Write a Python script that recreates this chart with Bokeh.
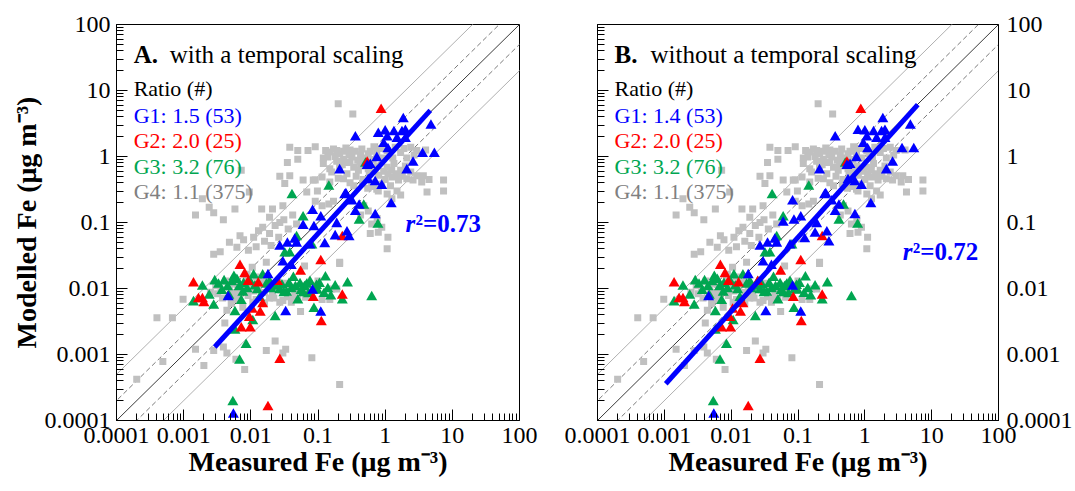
from bokeh.plotting import figure
from bokeh.layouts import row
from bokeh.models import Range1d, FixedTicker, LogAxis, Label
from bokeh.embed import file_html
from bokeh.resources import INLINE

# ---------------- data ----------------
tick_vals = [0.0001, 0.001, 0.01, 0.1, 1.0, 10.0, 100.0]
tick_labels = ["0.0001", "0.001", "0.01", "0.1", "1", "10", "100"]

groups = ["G1", "G2", "G3", "G4"]
ratios_a = [1.5, 2.0, 3.2, 1.1]
ratios_b = [1.4, 2.0, 3.2, 1.1]
counts = [53, 25, 76, 375]
r2_a = 0.73
r2_b = 0.72
ref_factors = [1.0, 2.0, 0.5, 5.0, 0.2]

# G4 (grey squares)
g4_meas = [0.038, 0.050, 0.071, 0.035, 0.050, 0.0072, 0.027, 0.038, 0.0095, 0.060,
           0.085, 0.032, 0.0019, 0.0015, 0.0024, 0.0028, 0.0039, 0.0058, 0.0145, 0.021,
           0.030, 0.019, 0.027, 0.015, 0.0069, 0.012, 0.020, 0.0028, 0.068, 0.20,
           0.33, 0.091, 0.13, 0.15, 0.19, 0.24, 0.30, 0.14, 0.18, 0.24,
           0.32, 0.43, 0.56, 0.68, 0.85, 1.07, 1.41, 1.9, 2.4, 2.95,
           4.0, 0.12, 0.15, 0.21, 0.27, 0.34, 0.43, 0.56, 0.76, 1.07,
           1.35, 1.7, 2.4, 2.95, 3.7, 1.26, 1.58, 2.1, 2.6, 3.5,
           4.5, 7.4, 0.091, 0.115, 0.15, 0.24, 0.34, 0.46, 0.63, 0.79,
           1.07, 1.5, 4.2, 7.4, 1.7, 1.26, 0.098, 0.091, 0.115, 0.145,
           0.17, 0.48, 0.56, 0.43, 0.76, 0.63, 0.89, 0.60, 0.79, 1.1,
           1.07, 0.21, 0.00098, 0.0004, 0.00068, 0.0015, 0.00049, 0.002, 0.0002, 0.0028,
           0.0039, 0.0044, 0.006, 0.0081, 0.023, 0.017, 0.030, 0.033, 0.081, 0.0041,
           0.055, 0.0105, 0.017, 0.063, 0.012, 0.0062, 0.0032, 0.0091, 0.019, 0.0107,
           0.0076, 0.0044, 0.0055, 0.0051, 0.016, 0.043, 0.030, 0.040, 0.21, 0.10,
           0.16, 0.19, 0.115, 0.15, 0.21,
           0.17, 0.21, 0.26, 0.29, 0.36, 0.39, 0.45, 0.52, 0.6, 0.66,
           0.75, 0.9, 1.15, 1.3, 1.7, 2.1, 2.7, 0.19, 0.23, 0.3,
           0.4, 0.5, 0.58, 0.7, 0.8, 0.95, 1.1, 1.25, 1.45, 1.8,
           2.0, 0.27, 0.37, 0.47, 0.68, 0.88, 1.0, 1.2, 0.3, 0.55,
           0.75, 0.12, 0.16, 0.2, 0.42,
           0.003, 0.0036, 0.0042, 0.0048, 0.0055, 0.0065, 0.0075, 0.0085, 0.0095, 0.011,
           0.013, 0.015, 0.018, 0.021, 0.024, 0.028, 0.033, 0.038, 0.045, 0.052,
           0.06, 0.07, 0.08, 0.0038, 0.0058, 0.0068, 0.012, 0.016, 0.022, 0.027,
           0.035, 0.05, 0.065, 0.0025, 0.0088,
           0.0035, 0.0048, 0.0062, 0.0078, 0.0092, 0.011, 0.013, 0.016, 0.019, 0.023,
           0.026, 0.031, 0.036, 0.042, 0.048]
g4_mod = [1.38, 1.23, 1.23, 0.81, 0.91, 0.62, 0.50, 0.51, 0.29, 0.44,
          0.44, 0.39, 0.23, 0.13, 0.17, 0.14, 0.11, 0.16, 0.16, 0.16,
          0.18, 0.12, 0.10, 0.085, 0.063, 0.043, 0.045, 0.033, 0.29, 6.3,
          4.4, 1.41, 1.23, 1.17, 1.23, 1.2, 1.26, 0.98, 1.0, 0.91,
          0.98, 1.05, 1.1, 1.41, 1.32, 1.23, 1.38, 1.32, 1.38, 1.23,
          1.26, 0.78, 0.65, 0.72, 0.81, 0.69, 0.78, 0.65, 0.72, 0.69,
          0.78, 0.62, 0.58, 0.51, 0.51, 0.49, 0.44, 0.46, 0.44, 0.41,
          0.45, 0.44, 0.44, 0.49, 0.41, 0.46, 0.36, 0.39, 0.35, 0.30,
          0.27, 0.30, 0.29, 0.30, 0.26, 0.23, 0.30, 0.21, 0.18, 0.19,
          0.21, 0.18, 0.15, 0.13, 0.115, 0.095, 0.085, 0.068, 0.071, 0.060,
          0.040, 0.025, 0.0069, 0.0036, 0.0036, 0.0012, 0.00078, 0.00068, 0.00042, 0.00115,
          0.0013, 0.00105, 0.00085, 0.00059, 0.0016, 0.00115, 0.00105, 0.0012, 0.00089, 0.003,
          0.0045, 0.021, 0.025, 0.022, 0.015, 0.0115, 0.0083, 0.0078, 0.0072, 0.0062,
          0.0052, 0.0047, 0.0087, 0.0059, 0.0087, 0.0074, 0.0066, 0.0062, 0.024, 0.013,
          0.0098, 0.0098, 0.0068, 0.0068, 0.00035,
          1.3, 1.1, 1.35, 1.05, 1.2, 0.88, 1.3, 0.95, 1.2, 0.9,
          1.15, 0.95, 1.1, 0.95, 1.15, 0.95, 1.05, 0.85, 0.75, 0.82,
          0.62, 0.72, 0.55, 0.6, 0.52, 0.6, 0.55, 0.62, 0.55, 0.5,
          0.72, 0.55, 0.5, 0.45, 0.4, 0.38, 0.45, 0.36, 0.4, 0.33,
          0.32, 0.95, 0.58, 0.47, 0.86,
          0.011, 0.0095, 0.013, 0.0105, 0.012, 0.0095, 0.011, 0.0135, 0.0105, 0.0092,
          0.011, 0.0125, 0.0105, 0.0088, 0.011, 0.0095, 0.012, 0.0105, 0.0092, 0.011,
          0.0098, 0.0085, 0.011, 0.0072, 0.0068, 0.0078, 0.0068, 0.0061, 0.0072, 0.0062,
          0.0075, 0.0068, 0.0074, 0.0088, 0.0165,
          0.036, 0.05, 0.042, 0.055, 0.038, 0.06, 0.075, 0.052, 0.068, 0.09,
          0.06, 0.11, 0.08, 0.13, 0.095]

# G3 (green triangles)
g3_meas = [0.041, 0.048, 0.038, 0.51, 0.145, 0.48, 0.41, 0.78, 0.081,
           0.0019, 0.0014, 0.0029, 0.004, 0.0056, 0.0045, 0.0076, 0.0024, 0.0028, 0.0058,
           0.0107, 0.0058, 0.0085, 0.0068, 0.0054, 0.011, 0.015, 0.019, 0.023, 0.027,
           0.034, 0.043, 0.054, 0.063, 0.076, 0.089, 0.05, 0.06, 0.023, 0.087,
           0.129, 0.275, 0.098, 0.123, 0.155, 0.23, 0.63,
           0.0033, 0.0037, 0.0052, 0.0062, 0.0067, 0.0078, 0.0088, 0.0098, 0.0115, 0.0125,
           0.017, 0.02, 0.025, 0.029, 0.031, 0.037, 0.04, 0.046, 0.056, 0.068,
           0.072, 0.095, 0.105, 0.14, 0.18, 0.0047, 0.0072, 0.0135, 0.032, 0.06]
g3_mod = [0.26, 0.06, 0.034, 0.78, 0.35, 0.18, 0.107, 0.093, 0.045,
          0.0107, 0.0062, 0.0129, 0.0129, 0.015, 0.0105, 0.0087, 0.0078, 0.0055, 0.0044,
          0.0032, 0.0023, 0.0014, 0.00081, 0.00019, 0.0158, 0.0158, 0.0126, 0.0107, 0.0095,
          0.0087, 0.0145, 0.0117, 0.0105, 0.0126, 0.0095, 0.0066, 0.0085, 0.0037, 0.0049,
          0.0148, 0.012, 0.0093, 0.0083, 0.0076, 0.0066, 0.0074,
          0.0115, 0.0092, 0.0125, 0.0135, 0.0105, 0.0118, 0.0098, 0.0125, 0.0108, 0.0095,
          0.0115, 0.0098, 0.0125, 0.0112, 0.0085, 0.0118, 0.0098, 0.0105, 0.0092, 0.0115,
          0.0082, 0.011, 0.0118, 0.0098, 0.0108, 0.0078, 0.0065, 0.0072, 0.034, 0.12]

# G2 (red triangles)
g2_meas = [0.0069, 0.0081, 0.0091, 0.0129, 0.0014, 0.00166, 0.0019, 0.002, 0.015, 0.0138,
           0.0095, 0.0072, 0.0098, 0.027, 0.018, 0.055, 0.025, 0.085, 0.87, 0.54,
           0.23, 0.11, 0.23, 0.112, 0.0105]
g2_mod = [0.022, 0.0166, 0.0126, 0.012, 0.012, 0.0069, 0.0069, 0.006, 0.0058, 0.0043,
          0.0036, 0.0025, 0.0025, 0.00083, 0.00016, 0.018, 0.0126, 0.0072, 5.1, 0.81,
          0.06, 0.026, 0.0078, 0.0031, 0.0048]

# G1 (blue triangles)
g1_meas = [0.083, 0.060, 0.027, 0.035, 0.048, 0.076, 1.86, 4.8, 0.36, 0.79,
           1.0, 1.35, 1.78, 1.07, 1.5, 2.0, 0.95, 2.0, 3.6, 5.4,
           2.6, 2.1, 0.21, 0.54, 0.56, 0.71, 0.89, 1.23, 0.26, 0.32,
           0.41, 0.36, 0.71, 0.19, 0.18, 0.27, 0.29, 0.126, 0.087, 0.0046,
           0.033, 0.0055, 0.030, 0.040, 0.083, 0.11, 0.018, 0.045, 0.11, 0.25,
           0.6, 0.75, 1.1]
g1_mod_a = [0.15, 0.089, 0.043, 0.048, 0.048, 0.045, 3.7, 2.95, 1.95, 2.2,
            2.4, 2.35, 2.35, 1.95, 1.86, 1.86, 1.55, 2.45, 1.1, 1.1,
            0.81, 0.62, 0.62, 0.72, 0.44, 0.41, 0.36, 0.19, 0.27, 0.21,
            0.18, 0.145, 0.13, 0.095, 0.062, 0.071, 0.06, 0.047, 0.085, 0.0074,
            0.0044, 0.000123, 0.025, 0.022, 0.0093, 0.0043, 0.016, 0.055, 0.12, 0.26,
            0.75, 0.95, 1.3]
g1_mod_b = [0.21, 0.10, 0.043, 0.048, 0.048, 0.045, 3.7, 2.95, 1.95, 2.45,
            2.4, 2.35, 2.35, 1.95, 1.86, 1.86, 1.55, 2.45, 1.3, 1.3,
            0.81, 0.62, 0.62, 0.72, 0.44, 0.41, 0.36, 0.19, 0.27, 0.21,
            0.18, 0.145, 0.13, 0.095, 0.068, 0.071, 0.05, 0.056, 0.107, 0.0074,
            0.0044, 0.000123, 0.025, 0.022, 0.0107, 0.0043, 0.016, 0.055, 0.12, 0.26,
            0.75, 0.95, 1.3]

fit_a_x = [0.0029, 4.7]
fit_a_y = [0.0013, 5.0]
fit_b_x = [0.00105, 6.2]
fit_b_y = [0.00036, 6.1]

# ---------------- styling ----------------
FONT = "Liberation Serif"
C_BLUE = "#0000ff"
C_RED = "#ff0000"
C_GREEN = "#00a651"
C_GREYSQ = "#c0c0c0"
C_GREYTXT = "#808080"
group_colors = [C_BLUE, C_RED, C_GREEN, C_GREYTXT]

AX_MIN, AX_MAX = tick_vals[0], tick_vals[-1]
minor_ticks = [m * v for v in tick_vals[:-1] for m in range(2, 10)]
overrides = dict(zip(tick_vals, tick_labels))
blank = {t: "" for t in tick_vals}

TICK_SIZE = "24px"
LEGEND_SIZE = "22px"


def style_axis(ax, ticks_in=True, labels=True):
    ax.ticker = FixedTicker(ticks=tick_vals, minor_ticks=minor_ticks)
    ax.major_label_overrides = overrides if labels else blank
    ax.major_label_text_font = FONT
    ax.major_label_text_font_size = TICK_SIZE
    ax.major_label_text_color = "black"
    ax.axis_line_color = "black"
    ax.major_tick_out = 0
    ax.minor_tick_out = 0
    if ticks_in:
        ax.major_tick_in = 11
        ax.minor_tick_in = 7
        ax.major_tick_line_color = "black"
        ax.minor_tick_line_color = "black"
    else:
        ax.major_tick_in = 0
        ax.minor_tick_in = 0
        ax.major_tick_line_color = None
        ax.minor_tick_line_color = None
    ax.axis_label_text_font = FONT
    ax.axis_label_text_font_size = "28px"
    ax.axis_label_text_font_style = "bold"
    ax.axis_label_text_color = "black"
    ax.axis_label_standoff = 0


def add_text(p, x, y, text, color="black", size=LEGEND_SIZE, style="normal", x_offset=0):
    p.add_layout(Label(x=x, y=y, text=text, text_color=color, text_font=FONT,
                       text_font_size=size, text_font_style=style,
                       text_baseline="alphabetic", text_align="left",
                       x_offset=x_offset))


def make_panel(letter, subtitle, ratios, r2, g1_mod, fit_x, fit_y, r2_pos, right_axis,
               border_left, border_right, frame_w):
    p = figure(x_axis_type="log", y_axis_type="log",
               x_range=Range1d(AX_MIN, AX_MAX), y_range=Range1d(AX_MIN, AX_MAX),
               frame_width=frame_w, frame_height=396,
               min_border_left=border_left, min_border_right=border_right,
               min_border_top=24, min_border_bottom=0,
               toolbar_location=None, output_backend="svg",
               y_axis_location="right" if right_axis else "left")
    p.xgrid.visible = False
    p.ygrid.visible = False
    p.outline_line_color = "black"
    p.outline_line_alpha = 1.0
    p.background_fill_color = "white"
    p.border_fill_color = "white"

    style_axis(p.xaxis[0])
    p.xaxis[0].major_label_standoff = 7
    p.xaxis[0].axis_label = "Measured Fe (\u03bcg m\u207b\u00b3)"

    if right_axis:
        style_axis(p.yaxis[0], ticks_in=False)
        p.yaxis[0].major_label_standoff = 8
        lax = LogAxis()
        style_axis(lax, ticks_in=True, labels=False)
        lax.major_label_standoff = 0
        p.add_layout(lax, "left")
    else:
        style_axis(p.yaxis[0])
        p.yaxis[0].major_label_standoff = 6
        p.yaxis[0].axis_label = "Modelled Fe (\u03bcg m\u207b\u00b3)"

    # reference lines y = f * x
    ext = [AX_MIN / 10, AX_MAX * 10]
    for f in ref_factors:
        if f == 1.0:
            col, dash = "#3a3a3a", "solid"
        elif f in (2.0, 0.5):
            col, dash = "#7a7a7a", "5 3"
        else:
            col, dash = "#b0b0b0", "solid"
        p.line(ext, [f * e for e in ext], line_color=col, line_width=1, line_dash=dash)

    p.scatter(g4_meas, g4_mod, marker="square", size=7, fill_color=C_GREYSQ, line_color=None)
    p.scatter(g3_meas, g3_mod, marker="triangle", size=11, fill_color=C_GREEN, line_color=None)
    p.scatter(g2_meas, g2_mod, marker="triangle", size=11, fill_color=C_RED, line_color=None)
    p.scatter(g1_meas, g1_mod, marker="triangle", size=11, fill_color=C_BLUE, line_color=None)
    p.line(fit_x, fit_y, line_color=C_BLUE, line_width=5)

    # titles and legend text
    tx = 1.8e-4
    add_text(p, tx, 34.7, letter, size="25px", style="bold")
    add_text(p, tx, 34.7, subtitle, size="25px", x_offset=36)
    add_text(p, tx, 10.6, "Ratio (#)")
    ys = [4.2, 1.74, 0.71, 0.295]
    for g, r, n, c, yy in zip(groups, ratios, counts, group_colors, ys):
        add_text(p, tx, yy, f"{g}: {r:.1f} ({n})", color=c)

    add_text(p, r2_pos[0], r2_pos[1], "r", color=C_BLUE, size="25px", style="bold italic")
    add_text(p, r2_pos[0], r2_pos[1], f"\u00b2={r2:.2f}", color=C_BLUE, size="25px",
             style="bold", x_offset=10)
    return p


pA = make_panel("A.", "with a temporal scaling", ratios_a, r2_a, g1_mod_a,
                fit_a_x, fit_a_y, (2.0, 0.095), False, 116, 20, 403)
pB = make_panel("B.", "without a temporal scaling", ratios_b, r2_b, g1_mod_b,
                fit_b_x, fit_b_y, (3.7, 0.036), True, 58, 0, 401)

layout = row(pA, pB)
open("out.html", "w").write(file_html(layout, INLINE))
